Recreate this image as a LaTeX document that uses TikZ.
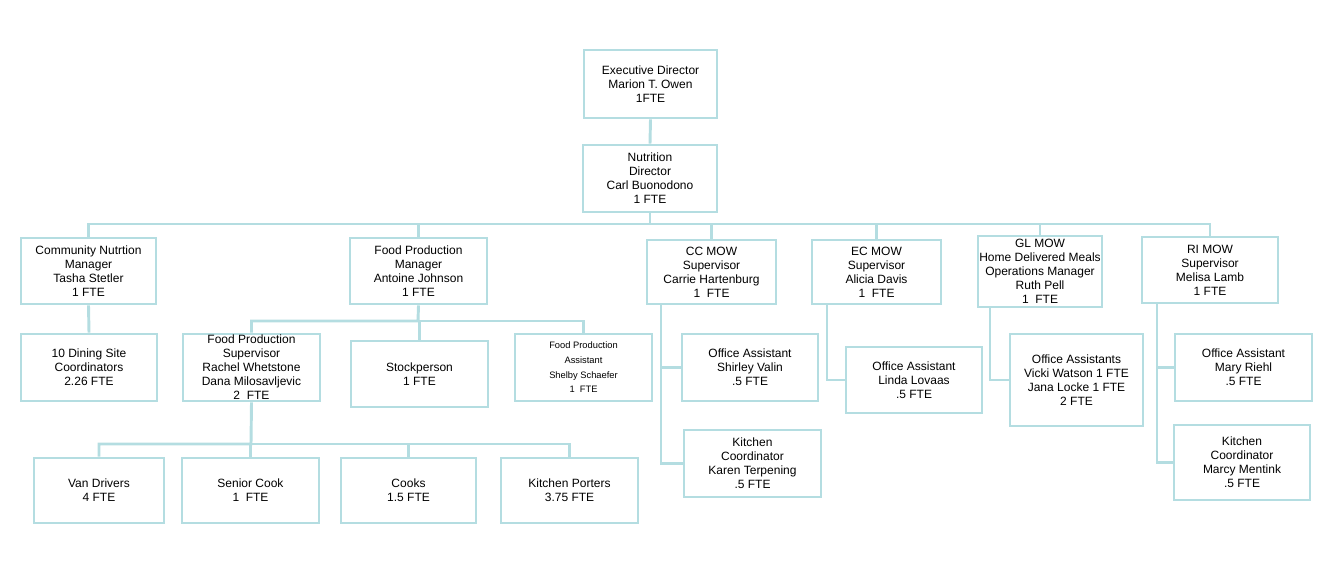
\documentclass[tikz,border=0pt]{standalone}
\usepackage{fontspec}
\setmainfont{Liberation Sans}
\begin{document}
\begin{tikzpicture}[x=0.75pt,y=-0.75pt,
  box/.style={draw=lt,line width=2.2pt,align=center,inner sep=0pt,font=\fontsize{9}{10.5}\selectfont},
  ln/.style={draw=lt,line width=2.2pt}]
\definecolor{lt}{HTML}{B4DDE1}
\useasboundingbox (0,0) rectangle (1332,570);
\newcommand\bx[6]{\node[box,minimum width={(#4-#2)*0.75pt},minimum height={(#5-#3)*0.75pt}] (#1) at ({(#2+#4)/2},{(#3+#5)/2}) {#6};}
\bx{ed}{584}{50}{717}{118}{Executive Director\\Marion T. Owen\\1FTE}
\bx{nd}{583}{145}{717}{212}{Nutrition\\Director\\Carl Buonodono\\1 FTE}
\bx{cm}{21}{238}{156}{304}{Community Nutrtion\\Manager\\Tasha Stetler\\1 FTE}
\bx{fp}{350}{238}{487}{304}{Food Production\\Manager\\Antoine Johnson\\1 FTE}
\bx{cc}{647}{240}{776}{304}{CC MOW\\Supervisor\\Carrie Hartenburg\\1\ \ FTE}
\bx{ec}{812}{240}{941}{304}{EC MOW\\Supervisor\\Alicia Davis\\1\ \ FTE}
\bx{gl}{978}{236}{1102}{307}{GL MOW\\Home Delivered Meals\\Operations Manager\\Ruth Pell\\1\ \ FTE}
\bx{ri}{1142}{237}{1278}{303}{RI MOW\\Supervisor\\Melisa Lamb\\1 FTE}
\bx{ds}{21}{334}{157}{401}{10 Dining Site\\Coordinators\\2.26 FTE}
\bx{fs}{183}{334}{320}{401}{Food Production\\Supervisor\\Rachel Whetstone\\Dana Milosavljevic\\2\ \ FTE}
\bx{sp}{351}{341}{488}{407}{Stockperson\\1 FTE}
\node[box,font=\fontsize{7}{11}\selectfont,minimum width={137*0.75pt},minimum height={67*0.75pt}] (fa) at (583.5,367.5) {Food Production\\Assistant\\Shelby Schaefer\\1\ \ FTE};
\bx{oa1}{682}{334}{818}{401}{Office Assistant\\Shirley Valin\\.5 FTE}
\bx{oa2}{846}{347}{982}{413}{Office Assistant\\Linda Lovaas\\.5 FTE}
\bx{oa3}{1010}{334}{1143}{426}{Office Assistants\\Vicki Watson 1 FTE\\Jana Locke 1 FTE\\2 FTE}
\bx{oa4}{1175}{334}{1312}{401}{Office Assistant\\Mary Riehl\\.5 FTE}
\bx{kc1}{684}{430}{821}{497}{Kitchen\\Coordinator\\Karen Terpening\\.5 FTE}
\bx{kc2}{1174}{425}{1310}{500}{Kitchen\\Coordinator\\Marcy Mentink\\.5 FTE}
\bx{vd}{34}{458}{164}{523}{Van Drivers\\4 FTE}
\bx{sc}{182}{458}{319}{523}{Senior Cook\\1\ \ FTE}
\bx{ck}{341}{458}{476}{523}{Cooks\\1.5 FTE}
\bx{kp}{501}{458}{638}{523}{Kitchen Porters\\3.75 FTE}
% connectors
\draw[ln] (ed.south) -- (nd.north);
\draw[ln] (nd.south) -- (650,224) -| (cm.north);
\draw[ln] (650,224) -| (fp.north);
\draw[ln] (650,224) -| (cc.north);
\draw[ln] (650,224) -| (ec.north);
\draw[ln] (650,224) -| (gl.north);
\draw[ln] (650,224) -| (ri.north);
\draw[ln] (cm.south) -- (ds.north);
\draw[ln] (fp.south) -- (418,321) -| (fs.north);
\draw[ln] (418,321) -| (sp.north);
\draw[ln] (418,321) -| (fa.north);
\draw[ln] (fs.south) -- (251,444) -| (vd.north);
\draw[ln] (251,444) -| (sc.north);
\draw[ln] (251,444) -| (ck.north);
\draw[ln] (251,444) -| (kp.north);
\draw[ln] (661,304) |- (kc1.west);
\draw[ln] (661,367.5) -- (oa1.west);
\draw[ln] (827,304) |- (oa2.west);
\draw[ln] (990,307) |- (oa3.west);
\draw[ln] (1157,303) |- (kc2.west);
\draw[ln] (1157,367.5) -- (oa4.west);
\end{tikzpicture}
\end{document}
